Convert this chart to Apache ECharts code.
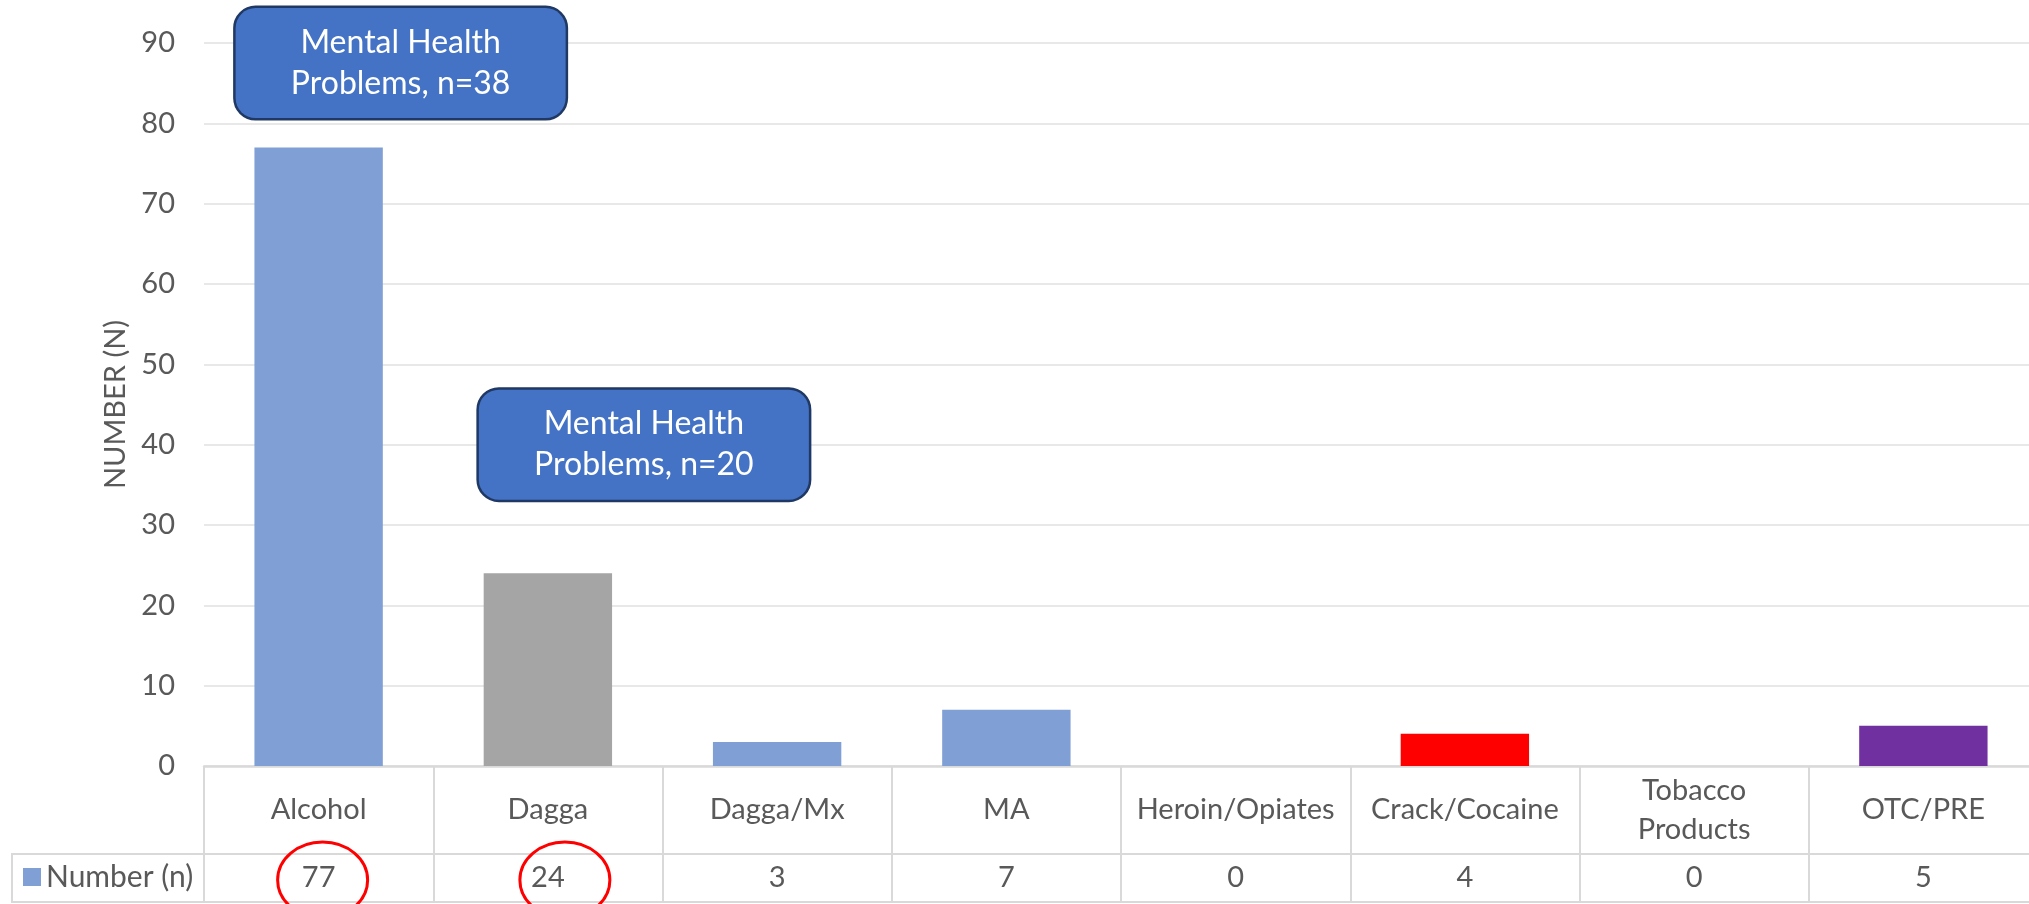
<!DOCTYPE html>
<html>
<head>
<meta charset="utf-8">
<script src="https://cdn.jsdelivr.net/npm/echarts@6/dist/echarts.min.js"></script>
<style>
    html, body { margin: 0; padding: 0; background: #fff; }
    #chart { width: 2029px; height: 904px; }
</style>
</head>
<body>
<div id="chart"></div>
<script>
// 数据
var categories = ['Alcohol', 'Dagga', 'Dagga/Mx', 'MA', 'Heroin/Opiates', 'Crack/Cocaine', 'Tobacco\nProducts', 'OTC/PRE']
var counts = [77, 24, 3, 7, 0, 4, 0, 5]
var barColors = ['#7F9FD5', '#A5A5A5', '#7F9FD5', '#7F9FD5', '#7F9FD5', '#FF0000', '#7F9FD5', '#7030A0']
var seriesName = 'Number (n)'
var yTicks = { min: 0, max: 90, interval: 10 }

// 标注
var noteCats = ['Alcohol', 'Dagga']
var noteValues = [87.5, 40]
var noteTexts = ['Mental Health\nProblems, n=38', 'Mental Health\nProblems, n=20']
var noteShift = [82, 96]
var circledCats = ['Alcohol', 'Dagga']
var circleShift = [4, 17]

// 布局
var W = 2029, H = 904
var gridLeft = 204, gridTop = 43, gridBottom = 138, gridWidth = 1834
var row1 = 88, row2 = 48
var lineColor = '#D9D9D9'
var textColor = '#595959'
var font = 'Lato, "Open Sans", sans-serif'

var chart = echarts.init(document.getElementById('chart'))

var option = {
    backgroundColor: '#fff',
    animation: false,
    textStyle: { fontFamily: font },
    grid: {
        left: gridLeft, width: gridWidth, top: gridTop, bottom: gridBottom,
        containLabel: false, outerBoundsMode: 'none'
    },
    legend: {
        left: 23,
        top: H - gridBottom + row1 + row2 / 2 - 16,
        padding: 0,
        icon: 'rect',
        itemWidth: 18,
        itemHeight: 18,
        itemGap: 8,
        textStyle: { fontSize: 30, color: textColor, fontFamily: font },
        data: [seriesName]
    },
    xAxis: [
        {
            type: 'category',
            data: categories,
            position: 'bottom',
            axisLine: { show: true, lineStyle: { color: lineColor, width: 2.5 } },
            axisTick: { show: true, interval: 0, length: row1, inside: false, lineStyle: { color: lineColor, width: 2 } },
            axisLabel: {
                interval: 0, margin: row1 / 2, verticalAlign: 'middle',
                fontSize: 29, lineHeight: 39, color: textColor, fontFamily: font
            }
        },
        {
            type: 'category',
            data: categories,
            position: 'bottom',
            offset: row1,
            axisLine: { show: true, lineStyle: { color: lineColor, width: 2 } },
            axisTick: { show: true, interval: 0, length: row2, inside: false, lineStyle: { color: lineColor, width: 2 } },
            axisLabel: {
                interval: 0, margin: row2 / 2, verticalAlign: 'middle',
                fontSize: 29, color: textColor, fontFamily: font,
                formatter: function (v, i) { return String(counts[i]) }
            }
        }
    ],
    yAxis: {
        type: 'value',
        min: yTicks.min,
        max: yTicks.max,
        interval: yTicks.interval,
        name: 'NUMBER (N)',
        nameLocation: 'middle',
        nameRotate: 90,
        nameGap: 72,
        nameTextStyle: { fontSize: 29, color: textColor, fontFamily: font },
        axisLine: { show: false },
        axisTick: { show: false },
        axisLabel: { fontSize: 29, color: textColor, margin: 29, fontFamily: font },
        splitLine: { lineStyle: { color: '#E8E8E8', width: 2 } }
    },
    series: [
        {
            name: seriesName,
            type: 'bar',
            xAxisIndex: 0,
            barWidth: '56%',
            itemStyle: { color: '#7F9FD5' },
            data: counts.map(function (v, i) {
                return { value: v, itemStyle: { color: barColors[i] } }
            }),
            markPoint: {
                symbol: 'rect',
                symbolSize: 1,
                itemStyle: { color: 'rgba(0,0,0,0)' },
                silent: true,
                data: noteCats.map(function (c, i) {
                    return {
                        coord: [c, noteValues[i]],
                        label: {
                            show: true,
                            position: 'inside',
                            offset: [noteShift[i], 0],
                            formatter: noteTexts[i],
                            width: 330,
                            align: 'center',
                            padding: [14, 0, 14, 0],
                            lineHeight: 41,
                            fontSize: 32,
                            color: '#fff',
                            fontFamily: font,
                            backgroundColor: '#4472C4',
                            borderColor: '#1F3864',
                            borderWidth: 2.5,
                            borderRadius: 20
                        }
                    }
                })
            }
        }
    ]
}
chart.setOption(option)

// 表格左侧单元格和底线、红圈
var rowTop = H - gridBottom + row1
var graphics = [
    {
        type: 'rect',
        shape: { x: 12, y: rowTop, width: gridLeft - 12, height: row2 },
        style: { fill: 'none', stroke: lineColor, lineWidth: 2 },
        z: 1
    },
    {
        type: 'line',
        shape: { x1: gridLeft, y1: rowTop + row2, x2: W, y2: rowTop + row2 },
        style: { stroke: lineColor, lineWidth: 2 },
        z: 1
    }
]
circledCats.forEach(function (c, i) {
    var cx = chart.convertToPixel({ xAxisIndex: 0 }, c)
    graphics.push({
        type: 'ellipse',
        shape: { cx: cx + circleShift[i], cy: rowTop + row2 / 2 + 2, rx: 45, ry: 38 },
        style: { fill: 'none', stroke: '#FF0000', lineWidth: 3 },
        z: 10
    })
})
chart.setOption({ graphic: graphics })
</script>
</body>
</html>
